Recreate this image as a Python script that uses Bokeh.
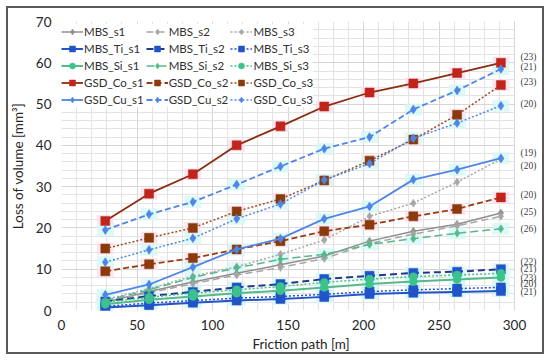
from bokeh.plotting import figure
from bokeh.models import (ColumnDataSource, Legend, LegendItem, LabelSet,
                          SingleIntervalTicker, Range1d, BoxAnnotation)
from bokeh.embed import file_html
from bokeh.resources import INLINE

# ---------------- data ----------------
friction_path = [29, 58, 87, 116, 145, 174, 204, 233, 262, 291]

MBS_s1 = [2.0, 4.6, 6.9, 9.0, 11.1, 13.2, 16.8, 19.2, 20.9, 23.6]
MBS_s2 = [2.2, 4.3, 6.5, 8.6, 10.4, 12.6, 16.2, 18.5, 20.5, 22.8]
MBS_s3 = [2.6, 5.3, 8.3, 10.6, 13.6, 17.1, 22.8, 26.0, 31.1, 36.7]
MBS_Ti_s1 = [0.7, 1.3, 1.9, 2.4, 2.8, 3.3, 4.0, 4.3, 4.5, 4.7]
MBS_Ti_s2 = [2.2, 3.5, 4.5, 5.6, 6.4, 7.6, 8.4, 9.1, 9.4, 10.0]
MBS_Ti_s3 = [1.0, 1.8, 2.4, 3.0, 3.4, 3.9, 4.6, 5.0, 5.3, 5.6]
MBS_Si_s1 = [1.5, 2.6, 3.4, 4.2, 4.8, 5.6, 6.4, 7.0, 7.5, 8.0]
MBS_Si_s2 = [2.4, 5.0, 8.0, 10.3, 12.4, 13.6, 16.0, 17.4, 18.7, 19.8]
MBS_Si_s3 = [2.0, 3.2, 4.2, 5.0, 5.8, 6.8, 7.6, 8.2, 8.6, 9.0]
GSD_Co_s1 = [21.7, 28.3, 33.0, 40.0, 44.6, 49.4, 52.8, 55.0, 57.5, 60.0]
GSD_Co_s2 = [9.5, 11.2, 12.7, 14.8, 16.8, 19.2, 20.8, 22.8, 24.6, 27.4]
GSD_Co_s3 = [15.0, 17.6, 20.0, 24.0, 27.0, 31.5, 36.3, 41.4, 47.4, 54.6]
GSD_Cu_s1 = [3.8, 6.3, 10.5, 14.8, 17.4, 22.2, 25.2, 31.7, 34.1, 36.9]
GSD_Cu_s2 = [19.5, 23.3, 26.3, 30.5, 34.9, 39.2, 42.0, 48.7, 53.3, 58.5]
GSD_Cu_s3 = [11.7, 14.7, 17.5, 22.2, 25.8, 31.6, 35.6, 41.7, 45.4, 49.6]

# end-of-line annotations (text and value level)
end_label_text = ["(23)", "(21)", "(23)", "(20)", "(19)", "(20)", "(20)",
                  "(25)", "(26)", "(22)", "(21)", "(23)", "(20)", "(21)"]
end_label_y = [61.3, 59.1, 55.3, 49.9, 38.1, 35.1, 28.0,
               23.8, 19.8, 11.7, 10.1, 7.9, 6.3, 4.4]
end_label_x = 302

x_axis_max = 300
y_axis_max = 70
x_ticks_interval = 50
y_ticks_interval = 10

FONT = "Lato"

# ---------------- style ----------------
GRAY = "#8f8f8f"
GRAY2 = "#a6a6a6"
TI = "#2153c9"
TI2 = "#1f3a8f"
SI = "#3cc38a"
SI_LINE = "#55b98a"
CO_LINE = "#8b2d10"
CO_RED = "#c0251b"
CO_BROWN = "#8b3a0c"
CU = "#4f86e6"
PINK = "#fde0ef"
CYAN = "#d6f8f6"

series = [
    # name, data, line color, dash, marker, marker color, size, lw, halo
    ("MBS_s1", MBS_s1, GRAY, "solid", "diamond", GRAY, 8, 1.5, None),
    ("MBS_s2", MBS_s2, GRAY2, "7 4", "diamond", GRAY2, 8, 1.5, None),
    ("MBS_s3", MBS_s3, GRAY2, "2 2", "diamond", GRAY2, 8, 1.5, None),
    ("MBS_Ti_s1", MBS_Ti_s1, TI, "solid", "square", TI, 9, 2, CYAN),
    ("MBS_Ti_s2", MBS_Ti_s2, TI2, "7 4", "square", TI, 9, 2, CYAN),
    ("MBS_Ti_s3", MBS_Ti_s3, TI, "2 2", "square", TI, 9, 1.5, CYAN),
    ("MBS_Si_s1", MBS_Si_s1, SI_LINE, "solid", "circle", SI, 8, 2, CYAN),
    ("MBS_Si_s2", MBS_Si_s2, SI_LINE, "8 4", "diamond", SI_LINE, 8, 1.5, CYAN),
    ("MBS_Si_s3", MBS_Si_s3, SI, "2 2", "circle", SI, 8, 1.5, CYAN),
    ("GSD_Co_s1", GSD_Co_s1, CO_LINE, "solid", "square", CO_RED, 9, 1.8, PINK),
    ("GSD_Co_s2", GSD_Co_s2, "#9c3b12", "6 3", "square", CO_BROWN, 9, 1.8, PINK),
    ("GSD_Co_s3", GSD_Co_s3, "#9c4a22", "2 2", "square", CO_BROWN, 9, 1.5, PINK),
    ("GSD_Cu_s1", GSD_Cu_s1, CU, "solid", "diamond", CU, 9, 1.8, CYAN),
    ("GSD_Cu_s2", GSD_Cu_s2, CU, "6 3", "diamond", CU, 9, 1.8, CYAN),
    ("GSD_Cu_s3", GSD_Cu_s3, CU, "2 2", "diamond", CU, 9, 1.5, CYAN),
]

# frame: 453 px for 300 units; extra room on the right for the end labels
PX_PER_UNIT = 453 / 300
FRAME_W = 479
x_end = FRAME_W / PX_PER_UNIT

p = figure(width=550, height=360, output_backend="svg", toolbar_location=None,
           x_range=Range1d(0, x_end), y_range=Range1d(0, y_axis_max),
           min_border_left=61, min_border_right=550 - 61 - FRAME_W,
           min_border_top=21, min_border_bottom=50)
p.styles = {"outline": "2px solid #5a5a5a", "outline-offset": "-8px",
            "background-color": "white"}
p.outline_line_color = None
p.background_fill_color = "white"
p.border_fill_alpha = 0

p.xaxis.ticker = SingleIntervalTicker(interval=x_ticks_interval, num_minor_ticks=5)
p.yaxis.ticker = SingleIntervalTicker(interval=y_ticks_interval, num_minor_ticks=5)
p.xaxis.bounds = (0, x_axis_max)
for ax in (p.xaxis, p.yaxis):
    ax.axis_line_color = None
    ax.major_tick_line_color = None
    ax.minor_tick_line_color = None
    ax.major_tick_out = 0
    ax.minor_tick_out = 0
    ax.major_tick_in = 0
    ax.minor_tick_in = 0
    ax.major_label_text_font = FONT
    ax.major_label_text_font_size = "13.5px"
    ax.major_label_text_color = "#262626"
    ax.axis_label_text_font = FONT
    ax.axis_label_text_font_size = "13.5px"
    ax.axis_label_text_font_style = "normal"
    ax.axis_label_text_color = "#262626"
p.xaxis.axis_label = "Friction path [m]"
p.yaxis.axis_label = "Loss of volume [mm³]"
p.xaxis.major_label_standoff = 9
p.yaxis.major_label_standoff = 10
p.xaxis.axis_label_standoff = 3
p.yaxis.axis_label_standoff = 7

for g in (p.xgrid, p.ygrid):
    g.grid_line_color = "#d6d6d6"
    g.grid_line_width = 1
    g.minor_grid_line_color = "#e3e3e3"
    g.minor_grid_line_width = 1
p.xgrid.bounds = (0, x_axis_max)
try:
    p.ygrid.cross_bounds = (0, x_axis_max)
except Exception:
    p.add_layout(BoxAnnotation(left=x_axis_max + 0.4, fill_color="white",
                               fill_alpha=1, line_color=None, level="underlay"))

# halos behind markers
for name, data, lc, dash, marker, mc, size, lw, halo in series:
    if halo:
        hs = ColumnDataSource(dict(x=friction_path, y=data))
        p.rect("x", "y", width=17, height=12, width_units="screen",
               height_units="screen", source=hs, fill_color=halo,
               line_color=None, fill_alpha=0.8)

items = []
for name, data, lc, dash, marker, mc, size, lw, halo in series:
    colors = [mc] * len(data)
    if name in ("GSD_Co_s2", "GSD_Co_s3"):
        colors[-1] = CO_RED
    src = ColumnDataSource(dict(x=friction_path, y=data, c=colors))
    r_line = p.line("x", "y", source=src, line_color=lc, line_width=lw,
                    line_dash=dash)
    r_m = p.scatter("x", "y", source=src, marker=marker, size=size,
                    fill_color="c", line_color="c", line_width=0.5)
    items.append(LegendItem(label=name, renderers=[r_line, r_m]))

LEG_PAD = 5
LEG_ROW = 15
LEG_SP = 2
leg_h = 2 * LEG_PAD + 5 * LEG_ROW + 4 * LEG_SP
frame_h = 310 - 21
leg_top_offset = -7
legend = Legend(items=items, orientation="horizontal", ncols=3,
                location=(0, frame_h - leg_top_offset - leg_h))
legend.margin = 0
legend.padding = LEG_PAD
legend.spacing = LEG_SP
legend.glyph_width = 22
legend.glyph_height = LEG_ROW
legend.label_height = LEG_ROW
legend.label_standoff = 1
legend.label_text_font = FONT
legend.label_text_font_size = "11.5px"
legend.label_text_color = "#303030"
legend.border_line_color = None
legend.background_fill_color = "white"
legend.background_fill_alpha = 1
p.add_layout(legend, "center")

lab_src = ColumnDataSource(dict(x=[end_label_x] * len(end_label_y),
                                y=end_label_y, t=end_label_text))
labels = LabelSet(x="x", y="y", text="t", source=lab_src,
                  text_font=FONT, text_font_size="9.5px",
                  text_color="#404040", text_align="left",
                  text_baseline="middle", x_offset=3)
p.add_layout(labels)

open("out.html", "w").write(file_html(p, INLINE))
